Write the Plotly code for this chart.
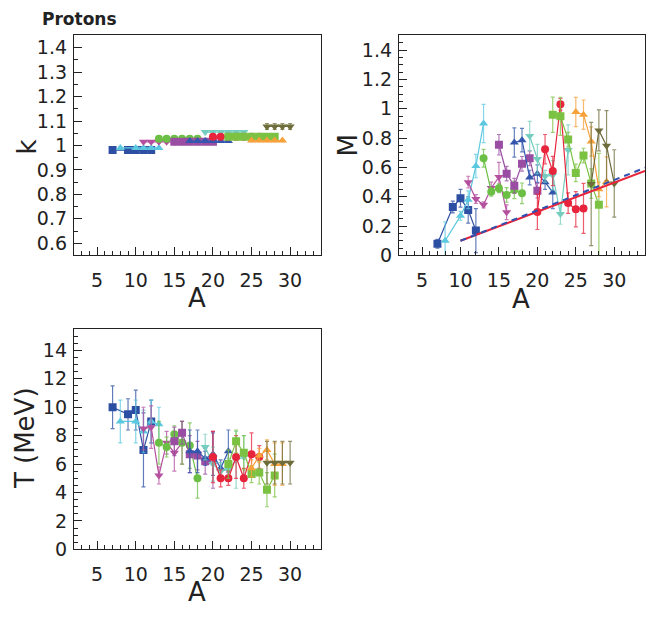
import plotly.graph_objects as go

# ---------------- data ----------------
li_A = [7, 9, 10, 11, 12]
li_k = [0.981, 0.981, 0.981, 0.981, 0.981]
li_M = [0.08, 0.33, 0.39, 0.31, 0.17]
li_Merr = [0.03, 0.04, 0.06, 0.09, 0.15]
li_T = [10.0, 9.5, 9.8, 7.0, 9.0]
li_Terr = [1.5, 1.1, 1.4, 2.6, 1.5]

be_A = [8, 10, 11, 12, 13]
be_k = [0.99, 0.99, 0.99, 0.99, 0.99]
be_M = [0.10, 0.27, 0.38, 0.61, 0.90]
be_Merr = [0.13, 0.03, 0.06, 0.08, 0.13]
be_T = [9.0, 9.0, 8.3, 9.0, 8.8]
be_Terr = [1.5, 1.5, 1.5, 1.5, 1.2]

b_A = [11, 12, 13, 14, 15, 16]
b_k = [1.015, 1.015, 1.015, 1.015, 1.015, 1.015]
b_M = [0.50, 0.385, 0.345, 0.46, 0.535, 0.295]
b_Merr = [0.04, 0.03, 0.02, 0.04, 0.1, 0.05]
b_T = [8.5, 8.6, 5.2, 7.5, 6.8, 7.5]
b_Terr = [1.5, 1.5, 0.6, 0.8, 1.3, 1.5]

c_A = [13, 14, 15, 16, 17, 18]
c_k = [1.028, 1.028, 1.028, 1.028, 1.028, 1.028]
c_M = [0.663, 0.435, 0.458, 0.413, 0.447, 0.424]
c_Merr = [0.06, 0.03, 0.03, 0.05, 0.06, 0.07]
c_T = [7.5, 7.2, 8.1, 7.5, 7.3, 5.0]
c_Terr = [1.5, 0.7, 0.6, 1.5, 1.6, 1.4]

n_A = [15, 16, 17, 18, 19, 20]
n_k = [1.015, 1.015, 1.015, 1.015, 1.015, 1.015]
n_M = [0.755, 0.558, 0.475, 0.625, 0.663, 0.442]
n_Merr = [0.07, 0.05, 0.05, 0.05, 0.05, 0.05]
n_T = [7.6, 8.2, 6.7, 6.6, 6.2, 6.3]
n_Terr = [1.0, 0.8, 1.3, 1.0, 0.9, 2.0]

o_A = [17, 18, 19, 20, 21, 22]
o_k = [1.018, 1.018, 1.018, 1.018, 1.018, 1.018]
o_M = [0.77, 0.786, 0.531, 0.558, 0.50, 0.43]
o_Merr = [0.1, 0.08, 0.05, 0.06, 0.05, 0.11]
o_T = [6.9, 6.9, 6.4, 6.7, 5.7, 6.9]
o_Terr = [1.5, 1.5, 0.5, 1.5, 0.6, 1.5]

f_A = [19, 20, 21, 22, 23, 24]
f_k = [1.055, 1.055, 1.055, 1.055, 1.055, 1.055]
f_M = [0.815, 0.658, 0.54, 0.547, 0.283, 0.72]
f_Merr = [0.1, 0.1, 0.04, 0.1, 0.07, 0.17]
f_T = [7.2, 6.0, 5.5, 5.6, 6.3, 6.5]
f_Terr = [0.9, 1.2, 0.6, 0.8, 2.0, 1.5]

ne_A = [20, 21, 22, 23, 24, 25, 26]
ne_k = [1.036, 1.036, 1.036, 1.036, 1.036, 1.036, 1.036]
ne_M = [0.297, 0.725, 0.576, 1.031, 0.357, 0.315, 0.321]
ne_Merr = [0.12, 0.1, 0.1, 0.04, 0.07, 0.12, 0.17]
ne_T = [6.5, 5.0, 5.0, 6.5, 5.0, 6.7, 6.5]
ne_Terr = [1.8, 0.6, 0.5, 1.5, 0.7, 1.5, 0.8]

na_A = [22, 23, 24, 25, 26, 27, 28]
na_k = [1.036, 1.036, 1.036, 1.036, 1.036, 1.036, 1.036]
na_M = [0.96, 0.949, 0.79, 0.563, 0.681, 0.49, 0.346]
na_Merr = [0.12, 0.13, 0.05, 0.06, 0.05, 0.1, 0.35]
na_T = [6.0, 7.6, 6.8, 5.3, 5.4, 4.2, 5.2]
na_Terr = [1.0, 0.8, 1.2, 0.6, 0.8, 1.2, 1.5]

mg_A = [25, 26, 27, 28, 29]
mg_k = [1.02, 1.02, 1.02, 1.02, 1.02]
mg_M = [0.978, 0.96, 0.777, 0.451, 0.502]
mg_Merr = [0.1, 0.1, 0.1, 0.05, 0.17]
mg_T = [5.7, 6.6, 7.0, 6.0, 6.0]
mg_Terr = [0.6, 0.5, 0.7, 1.5, 1.5]

al_A = [27, 28, 29, 30]
al_k = [1.078, 1.078, 1.078, 1.078]
al_kerr = [0.012, 0.012, 0.012, 0.012]
al_M = [0.487, 0.853, 0.748, 0.491]
al_Merr = [0.42, 0.14, 0.24, 0.23]
al_T = [6.1, 6.1, 6.1, 6.1]
al_Terr = [1.5, 1.5, 1.5, 1.5]

fit_A = [10, 34]
fit_red_M = [0.10, 0.576]
fit_blue_M = [0.10, 0.598]

x_tickvals = [5, 10, 15, 20, 25, 30]
x_ticktext = ["5", "10", "15", "20", "25", "30"]
k_tickvals = [0.6, 0.7, 0.8, 0.9, 1.0, 1.1, 1.2, 1.3, 1.4]
k_ticktext = ["0.6", "0.7", "0.8", "0.9", "1", "1.1", "1.2", "1.3", "1.4"]
m_tickvals = [0, 0.2, 0.4, 0.6, 0.8, 1.0, 1.2, 1.4]
m_ticktext = ["0", "0.2", "0.4", "0.6", "0.8", "1", "1.2", "1.4"]
t_tickvals = [0, 2, 4, 6, 8, 10, 12, 14]
t_ticktext = ["0", "2", "4", "6", "8", "10", "12", "14"]

# ---------------- styling ----------------
series = [
    ("Li", li_A, li_k, None, li_M, li_Merr, li_T, li_Terr, "#2d4fa3", "square"),
    ("Be", be_A, be_k, None, be_M, be_Merr, be_T, be_Terr, "#5cc8e0", "triangle-up"),
    ("B", b_A, b_k, None, b_M, b_Merr, b_T, b_Terr, "#b5509f", "triangle-down"),
    ("C", c_A, c_k, None, c_M, c_Merr, c_T, c_Terr, "#6cbf45", "circle"),
    ("N", n_A, n_k, None, n_M, n_Merr, n_T, n_Terr, "#9a4ea3", "square"),
    ("O", o_A, o_k, None, o_M, o_Merr, o_T, o_Terr, "#3457ad", "triangle-up"),
    ("F", f_A, f_k, None, f_M, f_Merr, f_T, f_Terr, "#74cdbe", "triangle-down"),
    ("Ne", ne_A, ne_k, None, ne_M, ne_Merr, ne_T, ne_Terr, "#e8243c", "circle"),
    ("Na", na_A, na_k, None, na_M, na_Merr, na_T, na_Terr, "#7cc242", "square"),
    ("Mg", mg_A, mg_k, None, mg_M, mg_Merr, mg_T, mg_Terr, "#f7a13a", "triangle-up"),
    ("Al", al_A, al_k, al_kerr, al_M, al_Merr, al_T, al_Terr, "#6e6c3a", "triangle-down"),
]

# page body has an 8px margin; figure sized/positioned to land on the reference pixels
OFF = 8
W, H = 656 - OFF, 618 - OFF


def px_x(a, b):
    return [(a - OFF) / W, (b - OFF) / W]


def px_y(top, bottom):
    return [1 - (bottom - OFF) / H, 1 - (top - OFF) / H]


def rgba(hexc, a):
    h = hexc.lstrip("#")
    return "rgba(%d,%d,%d,%.2f)" % (int(h[0:2], 16), int(h[2:4], 16), int(h[4:6], 16), a)


fig = go.Figure()

for name, A, k, kerr, M, Merr, T, Terr, col, sym in series:
    for (yv, ye, xa, ya) in [(k, kerr, "x", "y"), (M, Merr, "x2", "y2"), (T, Terr, "x3", "y3")]:
        err = dict(type="data", array=ye if ye is not None else [0.004] * len(yv),
                   visible=True, color=rgba(col, 0.75), thickness=1.2, width=2)
        fig.add_trace(go.Scatter(
            x=A, y=yv, xaxis=xa, yaxis=ya, mode="lines+markers", name=name,
            line=dict(color=col, width=1.2),
            marker=dict(symbol=sym, size=8, color=col, line=dict(width=0)),
            error_y=err, showlegend=False))

fig.add_trace(go.Scatter(x=fit_A, y=fit_red_M, xaxis="x2", yaxis="y2", mode="lines",
                         line=dict(color="#e8243c", width=2), showlegend=False))
fig.add_trace(go.Scatter(x=fit_A, y=fit_blue_M, xaxis="x2", yaxis="y2", mode="lines",
                         line=dict(color="#3050b0", width=2, dash="6px,5px"), showlegend=False))

tickfont = dict(family="DejaVu Sans", size=19, color="#222")


def xax(domain, anchor):
    return dict(domain=domain, anchor=anchor, range=[2, 34], tickmode="array",
                tickvals=x_tickvals, ticktext=x_ticktext, ticks="inside", ticklen=8,
                tickcolor="#222", tickwidth=1, showline=True, linecolor="#222", linewidth=1.3,
                mirror=True, showgrid=False, zeroline=False, tickfont=tickfont,
                ticklabelstandoff=8,
                minor=dict(ticks="inside", ticklen=4, tickmode="linear", tick0=0, dtick=1,
                           tickcolor="#222", showgrid=False))


def yax(domain, anchor, rng, tv, tt, mdt):
    return dict(domain=domain, anchor=anchor, range=rng, tickmode="array",
                tickvals=tv, ticktext=tt, ticks="inside", ticklen=8,
                tickcolor="#222", tickwidth=1, showline=True, linecolor="#222", linewidth=1.3,
                mirror=True, showgrid=False, zeroline=False, tickfont=tickfont,
                ticklabelstandoff=2,
                minor=dict(ticks="inside", ticklen=4, tickmode="linear", tick0=0, dtick=mdt,
                           tickcolor="#222", showgrid=False))


fig.update_layout(
    width=W, height=H, margin=dict(l=0, r=0, t=0, b=0),
    paper_bgcolor="white", plot_bgcolor="white",
    xaxis=xax(px_x(74, 321), "y"),
    yaxis=yax(px_y(36, 260), "x", [0.55, 1.45], k_tickvals, k_ticktext, 0.05),
    xaxis2=xax(px_x(399, 645), "y2"),
    yaxis2=yax(px_y(36, 260), "x2", [0, 1.5], m_tickvals, m_ticktext, 0.05),
    xaxis3=xax(px_x(74, 321), "y3"),
    yaxis3=yax(px_y(335, 559.3), "x3", [0, 15.5], t_tickvals, t_ticktext, 0.5),
)

titlefont = dict(family="DejaVu Sans", size=26, color="#222")


def pos(x, y):
    return (x - OFF) / W, 1 - (y - OFF) / H


ann_specs = [
    ("<b>Protons</b>", 41, 8, 0, "left", "top", dict(family="DejaVu Sans", size=17, color="#222")),
    ("k", 27, 150, -90, "center", "middle", titlefont),
    ("A", 197, 303, 0, "center", "middle", titlefont),
    ("M", 348, 148, -90, "center", "middle", titlefont),
    ("A", 521, 304, 0, "center", "middle", titlefont),
    ("T (MeV)", 25, 446, -90, "center", "middle", titlefont),
    ("A", 197, 603, 0, "center", "middle", titlefont),
]
ann = []
for text, x, y, ang, xa, ya, fnt in ann_specs:
    ax_, ay_ = pos(x, y)
    ann.append(dict(text=text, x=ax_, y=ay_, textangle=ang, xanchor=xa, yanchor=ya,
                    xref="paper", yref="paper", showarrow=False, font=fnt, borderpad=0))
fig.update_layout(annotations=ann)

fig.write_html("out.html")
